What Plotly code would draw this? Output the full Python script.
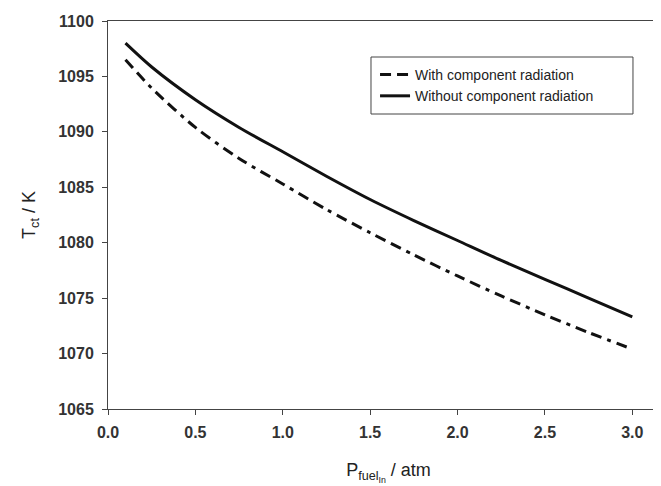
import plotly.graph_objects as go

pressure = [0.1, 0.25, 0.5, 0.75, 1.0, 1.25, 1.5, 1.75, 2.0, 2.25, 2.5, 2.75, 3.0]
t_with_rad = [1096.5, 1093.95, 1090.4, 1087.6, 1085.3, 1083.0, 1080.9, 1078.9, 1077.0, 1075.2, 1073.5, 1071.9, 1070.4]
t_without_rad = [1098.0, 1095.85, 1092.9, 1090.4, 1088.2, 1086.0, 1083.9, 1082.0, 1080.2, 1078.4, 1076.7, 1075.0, 1073.3]
x_ticks = [0.0, 0.5, 1.0, 1.5, 2.0, 2.5, 3.0]
y_ticks = [1065, 1070, 1075, 1080, 1085, 1090, 1095, 1100]

fig = go.Figure()
fig.add_trace(go.Scatter(
    x=pressure, y=t_with_rad, mode="lines", name="With component radiation",
    line=dict(color="#111111", width=3, dash="11px,6px,11px,6px,4px,6px", shape="spline", smoothing=0.8),
))
fig.add_trace(go.Scatter(
    x=pressure, y=t_without_rad, mode="lines", name="Without component radiation",
    line=dict(color="#111111", width=3, shape="spline", smoothing=0.8),
))

fam = "Liberation Sans, Arial, sans-serif"
fig.update_layout(
    width=661, height=486,
    margin=dict(l=100, r=0, t=13, b=85, autoexpand=False),
    paper_bgcolor="white", plot_bgcolor="white",
    font=dict(family=fam, color="#222222"),
    showlegend=True,
    legend=dict(
        x=0.476, y=0.902, xanchor="left", yanchor="top",
        borderwidth=0, bgcolor="rgba(0,0,0,0)",
        font=dict(family=fam, size=14, color="#222222"),
        tracegroupgap=0, itemwidth=30,
    ),
    shapes=[dict(
        type="rect", xref="paper", yref="paper",
        x0=0.4688, x1=0.9358, y0=0.7603, y1=0.9072,
        line=dict(color="#444444", width=1), fillcolor="white", layer="below",
    )],
    xaxis=dict(
        range=[0, 3.21], tickvals=x_ticks, tickformat=".1f",
        showgrid=False, zeroline=False,
        showline=True, linecolor="#444444", linewidth=1, mirror=True,
        ticks="outside", ticklen=5, tickcolor="#444444",
        ticklabelstandoff=4, automargin=False,
        tickfont=dict(family=fam, size=16, color="#333333", weight="bold"),
        title=dict(text="P<sub>fuel<sub>In</sub></sub> / atm", font=dict(family=fam, size=18, color="#222222"), standoff=23),
    ),
    yaxis=dict(
        range=[1065, 1100], tickvals=y_ticks,
        showgrid=False, zeroline=False,
        showline=True, linecolor="#444444", linewidth=1,
        ticks="outside", ticklen=5, tickcolor="#444444",
        ticklabelstandoff=5, automargin=False,
        tickfont=dict(family=fam, size=16, color="#333333", weight="bold"),
        title=dict(text="T<sub>ct</sub> / K", font=dict(family=fam, size=18, color="#222222"), standoff=17),
    ),
)

fig.write_html("out.html")
